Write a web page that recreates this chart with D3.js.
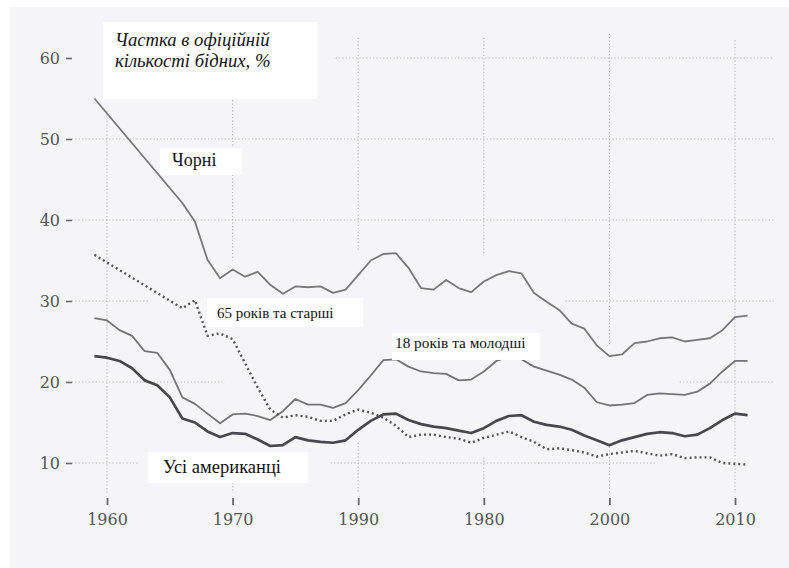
<!DOCTYPE html>
<html>
<head>
<meta charset="utf-8">
<script src="https://cdn.jsdelivr.net/npm/d3@7"></script>
<style>
  html, body { margin: 0; padding: 0; background: #ffffff; }
  svg { display: block; }
</style>
</head>
<body>
<svg id="chart" width="789" height="568"></svg>
<script>
// ---------------- DATA ----------------
const years = d3.range(1959, 2012); // 1959 … 2011

// Black Americans (no published values for 1960–1965)
const blacks = [55.0, null, null, null, null, null, null, 42.1, 39.8, 35.1, 32.8,
  33.9, 33.0, 33.6, 32.0, 30.9, 31.8, 31.7, 31.8, 31.0, 31.4,
  33.2, 35.0, 35.8, 35.9, 34.1, 31.6, 31.4, 32.6, 31.6, 31.1,
  32.4, 33.2, 33.7, 33.4, 31.0, 29.9, 28.9, 27.2, 26.6, 24.5,
  23.2, 23.4, 24.8, 25.0, 25.4, 25.5, 25.0, 25.2, 25.4, 26.4,
  28.0, 28.2];

// 18 years and younger
const children = [27.9, 27.6, 26.4, 25.7, 23.8, 23.6, 21.5, 18.1, 17.3, 16.1, 14.9,
  16.0, 16.1, 15.8, 15.3, 16.4, 17.9, 17.2, 17.2, 16.8, 17.4,
  19.0, 20.8, 22.7, 22.8, 21.9, 21.3, 21.1, 21.0, 20.2, 20.3,
  21.3, 22.6, 23.1, 22.8, 21.9, 21.4, 20.9, 20.3, 19.3, 17.5,
  17.1, 17.2, 17.4, 18.4, 18.6, 18.5, 18.4, 18.8, 19.8, 21.3,
  22.6, 22.6];

// All Americans
const allAmericans = [23.2, 23.0, 22.6, 21.7, 20.2, 19.6, 18.1, 15.5, 15.0, 13.9, 13.2,
  13.7, 13.6, 12.9, 12.1, 12.2, 13.2, 12.8, 12.6, 12.5, 12.8,
  14.1, 15.2, 16.0, 16.1, 15.3, 14.8, 14.5, 14.3, 14.0, 13.7,
  14.3, 15.2, 15.8, 15.9, 15.1, 14.7, 14.5, 14.1, 13.4, 12.8,
  12.2, 12.8, 13.2, 13.6, 13.8, 13.7, 13.3, 13.5, 14.3, 15.3,
  16.1, 15.9];

// 65 years and older (no published values for 1960–1965)
const elderly = [35.7, null, null, null, null, null, null, 29.1, 30.1, 25.7, 26.0,
  25.3, 22.3, 19.3, 16.6, 15.6, 15.9, 15.7, 15.2, 15.2, 16.0,
  16.6, 16.2, 15.6, 14.6, 13.2, 13.5, 13.5, 13.2, 13.0, 12.5,
  13.1, 13.5, 13.9, 13.2, 12.6, 11.7, 11.8, 11.6, 11.3, 10.8,
  11.1, 11.3, 11.5, 11.2, 10.9, 11.1, 10.6, 10.7, 10.7, 10.0,
  9.9, 9.8];

// Axis ticks (the reference prints its 1980/1990 labels swapped)
const xTickValues = [1960, 1970, 1980, 1990, 2000, 2010];
const xTickLabels = ["1960", "1970", "1990", "1980", "2000", "2010"];
const yTickValues = [10, 20, 30, 40, 50, 60];

const titleLines = ["Частка в офіційній", "кількості бідних, %"];
const seriesLabels = ["Чорні", "65 років та старші", "18 років та молодші", "Усі американці"];

// ---------------- LAYOUT ----------------
const svg = d3.select("#chart");
const W = 789, H = 568;

const x = d3.scaleLinear().domain([1960, 2010]).range([107, 735]);
const y = d3.scaleLinear().domain([10, 60]).range([463, 58]);

// page background (scanned page tint)
svg.append("rect").attr("x", 10).attr("y", 7).attr("width", W - 10).attr("height", H - 7)
  .attr("fill", "#f5f5f8");

// ---- gridline segments (data units: broken where the original leaves gaps)
const hGrid = [
  {v: 60, a: 1978.2, b: 2013.1},
  {v: 50, a: 1957.2, b: 2013.1},
  {v: 40, a: 1957.2, b: 2013.1},
  {v: 30, a: 1957.2, b: 1963.4}, {v: 30, a: 1996.5, b: 2013.1},
  {v: 20, a: 1957.2, b: 1969.4}, {v: 20, a: 2005.6, b: 2013.1},
  {v: 10, a: 1957.2, b: 1962.6}, {v: 10, a: 1977.8, b: 2003.8}
];
const vGrid = [
  {t: 1960, a: 53.5, b: 6.3},
  {t: 1970, a: 54.8, b: 35.0}, {t: 1970, a: 8.0, b: 6.3},
  {t: 1980, a: 62.5, b: 36.3}, {t: 1980, a: 12.5, b: 6.3},
  {t: 1990, a: 62.5, b: 35.7}, {t: 1990, a: 10.7, b: 6.3},
  {t: 2000, a: 63.0, b: 24.5}, {t: 2000, a: 12.0, b: 6.3},
  {t: 2010, a: 62.2, b: 6.3}
];
const grid = svg.append("g").attr("stroke", "#b4b4bc").attr("stroke-width", 1.1)
  .attr("stroke-dasharray", "1.2,2.2").attr("fill", "none");
grid.selectAll("line.h").data(hGrid).join("line").attr("class", "h")
  .attr("x1", d => x(d.a)).attr("x2", d => x(d.b))
  .attr("y1", d => y(d.v)).attr("y2", d => y(d.v));
grid.selectAll("line.v").data(vGrid).join("line").attr("class", "v")
  .attr("x1", d => x(d.t)).attr("x2", d => x(d.t))
  .attr("y1", d => y(d.a)).attr("y2", d => y(d.b));

// ---- axes
const xAxis = d3.axisBottom(x).tickValues(xTickValues)
  .tickFormat((d, i) => xTickLabels[i]).tickSize(7).tickPadding(9);
const gx = svg.append("g").attr("transform", "translate(0,498)").call(xAxis);
gx.select(".domain").remove();
gx.selectAll(".tick line").attr("stroke", "#6a6a6a").attr("stroke-width", 1.8);
gx.selectAll(".tick text").attr("fill", "#555")
  .style("font-family", "'DejaVu Serif', 'Liberation Serif', serif")
  .style("font-size", "16px");

const yAxis = d3.axisLeft(y).tickValues(yTickValues).tickSize(6).tickPadding(6);
const gy = svg.append("g").attr("transform", "translate(72,0)").call(yAxis);
gy.select(".domain").remove();
gy.selectAll(".tick line").attr("stroke", "#6a6a6a").attr("stroke-width", 1.6);
gy.selectAll(".tick text").attr("fill", "#555")
  .style("font-family", "'DejaVu Serif', 'Liberation Serif', serif")
  .style("font-size", "16px");

// ---- lines
const line = d3.line().x(d => x(d.year)).y(d => y(d.v)).curve(d3.curveLinear);
function pts(arr) {
  return years.map((yr, i) => ({year: yr, v: arr[i]})).filter(d => d.v != null);
}
const series = [
  {data: blacks,       color: "#78787c", width: 1.8, dash: null},
  {data: children,     color: "#747478", width: 1.8, dash: null},
  {data: elderly,      color: "#55555a", width: 2.4, dash: "2,3"},
  {data: allAmericans, color: "#48484c", width: 2.7, dash: null}
];
svg.append("g").selectAll("path").data(series).join("path")
  .attr("d", d => line(pts(d.data)))
  .attr("fill", "none")
  .attr("stroke", d => d.color)
  .attr("stroke-width", d => d.width)
  .attr("stroke-linejoin", "round")
  .attr("stroke-dasharray", d => d.dash);

// ---- annotation boxes and labels (positioned in data units)
const labelPos = [
  {box: [1964.22, 1970.75, 48.9, 45.56], tx: 1965.18, ty: 46.67, size: 18},
  {box: [1967.96, 1980.38, 30.37, 26.79], tx: 1968.76, ty: 27.95, size: 15},
  {box: [1982.69, 1994.47, 26.05, 22.72], tx: 1982.93, ty: 24.18, size: 15.3},
  {box: [1963.26, 1976.00, 11.36, 7.53], tx: 1964.46, ty: 8.77, size: 18.5}
];
const ann = svg.append("g");
labelPos.forEach((p, i) => {
  ann.append("rect")
    .attr("x", x(p.box[0])).attr("y", y(p.box[2]))
    .attr("width", x(p.box[1]) - x(p.box[0]))
    .attr("height", y(p.box[3]) - y(p.box[2]))
    .attr("fill", "#ffffff");
  ann.append("text")
    .attr("x", x(p.tx)).attr("y", y(p.ty))
    .attr("fill", "#111")
    .style("font-family", "'Liberation Serif', 'Times New Roman', serif")
    .style("font-size", p.size + "px")
    .text(seriesLabels[i]);
});

// ---- title box
const titleBox = [1959.68, 1976.72, 64.44, 54.94];
svg.append("rect")
  .attr("x", x(titleBox[0])).attr("y", y(titleBox[2]))
  .attr("width", x(titleBox[1]) - x(titleBox[0]))
  .attr("height", y(titleBox[3]) - y(titleBox[2]))
  .attr("fill", "#ffffff");
const titleY = [61.45, 58.85];
titleLines.forEach((t, i) => {
  svg.append("text")
    .attr("x", x(1960.64)).attr("y", y(titleY[i]))
    .attr("fill", "#111")
    .style("font-family", "'Liberation Serif', 'Times New Roman', serif")
    .style("font-style", "italic")
    .style("font-size", "18.7px")
    .text(t);
});
</script>
</body>
</html>
